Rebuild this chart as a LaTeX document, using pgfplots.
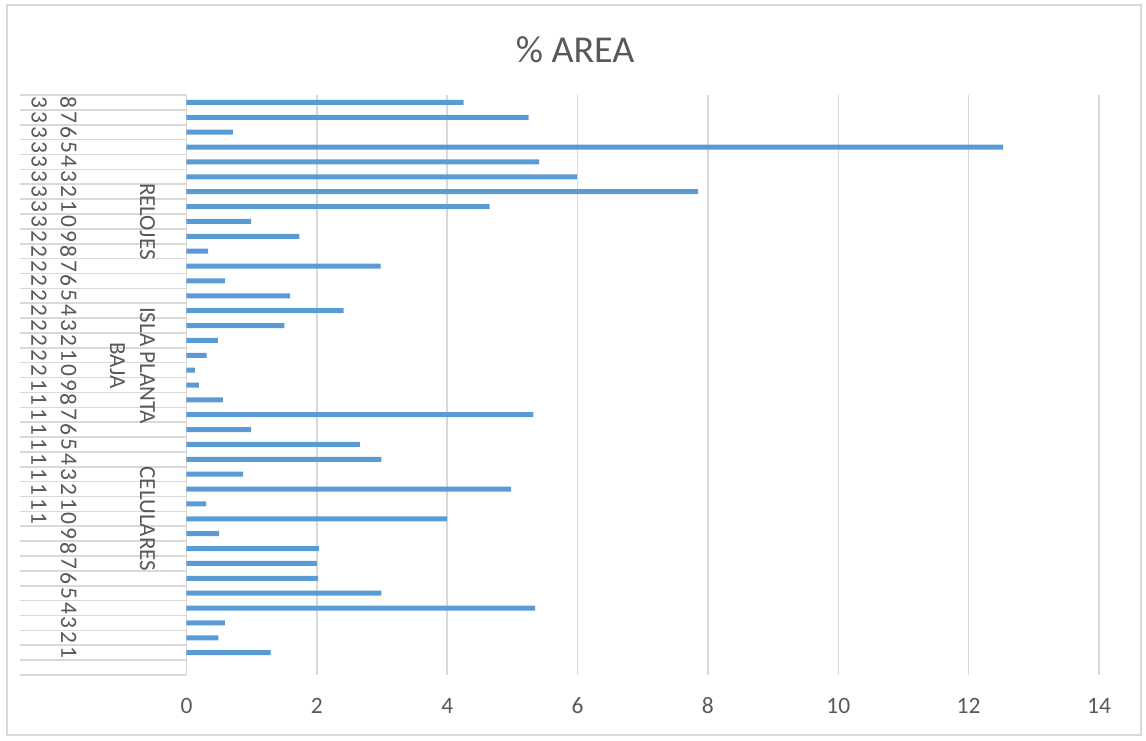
\documentclass[border=0pt]{standalone}
\usepackage{fontspec}
\setmainfont{Carlito}
\usepackage{graphicx}
\usepackage{pgfplots}
\pgfplotsset{compat=1.18}
\definecolor{txt}{HTML}{595959}
\definecolor{gridc}{HTML}{D9D9D9}
\definecolor{barc}{HTML}{5B9BD5}
\newcommand\lb[2]{\makebox[45pt]{\rotatebox{-90}{#1}\hfill\rotatebox{-90}{#2}}}
\newcommand\lf{\fontsize{23}{30}\selectfont}
\begin{document}
\begin{tikzpicture}[x=1pt,y=1pt]
\useasboundingbox (0,0) rectangle (1146,740);
\draw[gridc, line width=1.5pt] (7,5) rectangle (1141,735);
\begin{axis}[
  at={(186.5pt,65pt)}, anchor=south west,
  scale only axis, width=912.5pt, height=580pt,
  xmin=0, xmax=14, ymin=-0.5, ymax=38.5,
  xbar, bar width=5pt,
  clip=false,
  xtick={0,2,...,14},
  xmajorgrids, grid style={gridc, line width=1.5pt},
  axis x line*=bottom, axis y line*=left,
  axis line style={-},
  x axis line style={draw=none},
  y axis line style={gridc, line width=1.5pt},
  tick align=outside,
  major tick length=0pt,
  xtick style={draw=none},
  ytick={1,...,38},
  yticklabels={\lb{}{1},\lb{}{2},\lb{}{3},\lb{}{4},\lb{}{5},\lb{}{6},\lb{}{7},\lb{}{8},\lb{}{9},
    \lb{1}{0},\lb{1}{1},\lb{1}{2},\lb{1}{3},\lb{1}{4},\lb{1}{5},\lb{1}{6},\lb{1}{7},\lb{1}{8},\lb{1}{9},
    \lb{2}{0},\lb{2}{1},\lb{2}{2},\lb{2}{3},\lb{2}{4},\lb{2}{5},\lb{2}{6},\lb{2}{7},\lb{2}{8},\lb{2}{9},
    \lb{3}{0},\lb{3}{1},\lb{3}{2},\lb{3}{3},\lb{3}{4},\lb{3}{5},\lb{3}{6},\lb{3}{7},\lb{3}{8}},
  minor ytick={-0.5,0.5,...,38.5},
  minor tick length=166.5pt,
  every minor tick/.append style={gridc, line width=1.6pt},
  ticklabel style={font=\fontsize{23.5}{28}\selectfont, text=txt},
  /pgf/number format/assume math mode=true,
  xticklabel style={anchor=base, yshift=-38pt},
  yticklabel style={anchor=center, xshift=-132.5pt},
]
\addplot[fill=barc, draw=none] coordinates {
(1.29,1) (0.49,2) (0.59,3) (5.35,4) (2.99,5) (2.02,6) (2.00,7) (2.03,8) (0.50,9) (4.00,10)
(0.30,11) (4.98,12) (0.87,13) (2.99,14) (2.66,15) (0.99,16) (5.32,17) (0.56,18) (0.19,19) (0.13,20)
(0.31,21) (0.48,22) (1.50,23) (2.41,24) (1.59,25) (0.59,26) (2.98,27) (0.33,28) (1.73,29) (0.99,30)
(4.65,31) (7.85,32) (5.99,33) (5.41,34) (12.53,35) (0.71,36) (5.25,37) (4.25,38)
};
\node[rotate=-90, text=txt, font=\lf] at (axis cs:-0.6,30) {RELOJES};
\node[rotate=-90, text=txt, font=\lf, align=center] at (axis cs:-0.83,20.3) {ISLA PLANTA\\BAJA};
\node[rotate=-90, text=txt, font=\lf] at (axis cs:-0.6,10) {CELULARES};
\end{axis}
\node[anchor=base, text=txt, font=\fontsize{38}{44}\selectfont] at (575,677.3) {\% AREA};
\end{tikzpicture}
\end{document}
